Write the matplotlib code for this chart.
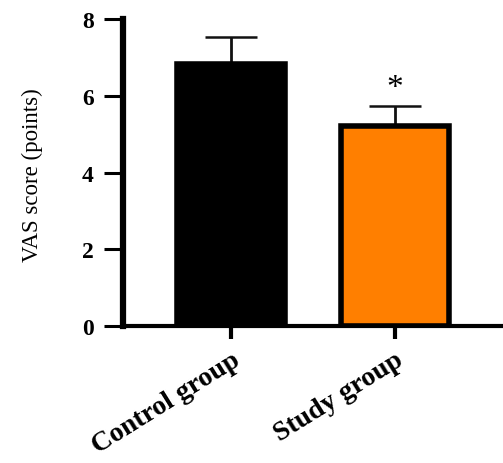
import matplotlib
matplotlib.use("Agg")
import matplotlib.pyplot as plt

groups = ["Control group", "Study group"]
means = [6.82, 5.21]
sd_upper = [0.71, 0.52]
colors = ["#000000", "#FF7F00"]
yticks = [0, 2, 4, 6, 8]

fig = plt.figure(figsize=(5.03, 4.64), dpi=100)
ax = fig.add_axes([0.2445, 0.295, 0.7555, 0.662])

x = range(len(groups))
ax.bar(x, means, width=0.66, color=colors, edgecolor="black", linewidth=4, zorder=2)
ax.errorbar(x, means, yerr=[[0, 0], sd_upper], fmt="none", ecolor="#111111",
            elinewidth=2, capsize=19, capthick=1.8, zorder=1)

# significance mark
ax.text(1, means[1] + sd_upper[1] + 0.08, "*", ha="center", va="bottom",
        fontsize=24, family="Liberation Serif")

ax.set_xlim(-0.66, 1.66)
ax.set_ylim(0, 8)
ax.set_yticks(yticks)
ax.set_xticks(list(x))
ax.set_xticklabels(groups, rotation=32, ha="right", rotation_mode="anchor",
                   fontsize=20, fontweight="bold", family="Liberation Serif")
for lab in ax.get_yticklabels():
    lab.set_fontsize(17)
    lab.set_fontweight("bold")
    lab.set_family("Liberation Serif")

ax.set_ylabel("VAS score (points)", fontsize=16.5, family="Liberation Serif")
ax.yaxis.set_label_coords(-0.21, 0.495)

ax.spines["top"].set_visible(False)
ax.spines["right"].set_visible(False)
ax.spines["left"].set_linewidth(4.5)
ax.spines["bottom"].set_linewidth(3)
ax.tick_params(axis="y", length=14, width=2.2, pad=7)
ax.tick_params(axis="x", length=9, width=3, pad=6)

fig.savefig("out.png", dpi=100)
